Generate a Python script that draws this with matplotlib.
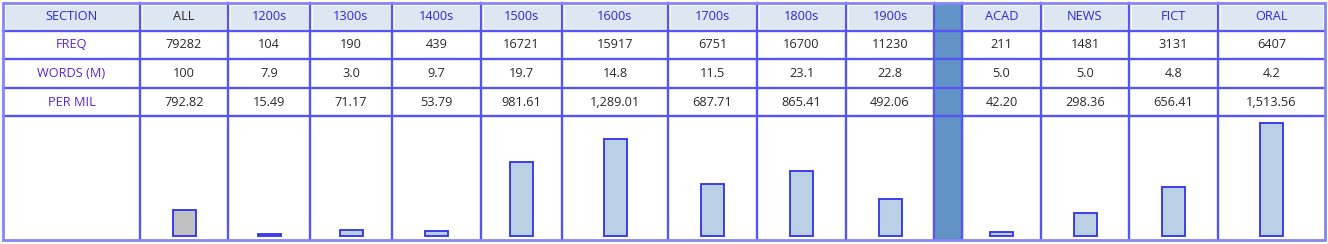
import matplotlib
matplotlib.use('Agg')
import matplotlib.pyplot as plt
from matplotlib.patches import Rectangle

sections = ['ALL', '1200s', '1300s', '1400s', '1500s', '1600s', '1700s', '1800s', '1900s',
            '', 'ACAD', 'NEWS', 'FICT', 'ORAL']
freq = [79282, 104, 190, 439, 16721, 15917, 6751, 16700, 11230, None, 211, 1481, 3131, 6407]
words = ['100', '7.9', '3.0', '9.7', '19.7', '14.8', '11.5', '23.1', '22.8', None, '5.0', '5.0', '4.8', '4.2']
per_mil = [792.82, 15.49, 71.17, 53.79, 981.61, 1289.01, 687.71, 865.41, 492.06, None,
           42.20, 298.36, 656.41, 1513.56]
# the ALL bar is drawn on its own scale in the source
bar_values = [340, 15.49, 71.17, 53.79, 981.61, 1289.01, 687.71, 865.41, 492.06, None,
              42.20, 298.36, 656.41, 1513.56]
row_labels = ['FREQ', 'WORDS (M)', 'PER MIL']

# layout in pixels
W, H = 1328, 244
col_edges = [3, 140, 228, 310, 392, 481, 562, 668, 757, 846, 934, 962, 1041, 1129, 1218, 1325]
row_edges = [3, 31, 59, 88, 116, 240]
sep_col = 10  # column index of the blue separator

grid_c = '#5555f2'
head_bg = '#dde7f1'
blue_txt = '#2a2ad6'
label_txt = '#5526e0'
val_txt = '#2a2a2a'

plt.rcParams['font.family'] = ['Open Sans', 'DejaVu Sans']

fig = plt.figure(figsize=(W / 100, H / 100), dpi=100)
ax = fig.add_axes([0, 0, 1, 1])
ax.set_xlim(0, W)
ax.set_ylim(H, 0)
ax.axis('off')

# header background
for i in range(len(col_edges) - 1):
    if i == sep_col:
        continue
    x0, x1 = col_edges[i], col_edges[i + 1]
    ax.add_patch(Rectangle((x0 + 1.5, row_edges[0] + 1.5), x1 - x0 - 3, row_edges[1] - row_edges[0] - 3,
                           facecolor=head_bg, edgecolor='white', lw=1.2, zorder=1))

# separator column
sx0, sx1 = col_edges[sep_col], col_edges[sep_col + 1]
ax.add_patch(Rectangle((sx0, row_edges[0]), sx1 - sx0, row_edges[-1] - row_edges[0],
                       facecolor='#6193c6', edgecolor='#6fb2c0', lw=1, zorder=1))

# grid
for x in col_edges[1:-1]:
    ax.plot([x, x], [row_edges[0], row_edges[-1]], color=grid_c, lw=1.7, zorder=3)
for y in row_edges[1:-1]:
    ax.plot([col_edges[0], col_edges[-1]], [y, y], color=grid_c, lw=1.7, zorder=3)
ax.add_patch(Rectangle((col_edges[0], row_edges[0]), col_edges[-1] - col_edges[0],
                       row_edges[-1] - row_edges[0], facecolor='none', edgecolor='#8585f6',
                       lw=2, zorder=3))

def cx(i):
    return (col_edges[i] + col_edges[i + 1]) / 2

def cy(r):
    return (row_edges[r] + row_edges[r + 1]) / 2

fs = 9.2
ax.text(cx(0), cy(0), 'SECTION', ha='center', va='center', fontsize=fs, color=blue_txt, zorder=4)
for j, lab in enumerate(row_labels):
    ax.text(cx(0), cy(j + 1), lab, ha='center', va='center', fontsize=fs, color=label_txt, zorder=4)

for k, name in enumerate(sections):
    if freq[k] is None:
        continue
    i = k + 1
    ax.text(cx(i), cy(0), name, ha='center', va='center', fontsize=fs,
            color=val_txt if name == 'ALL' else blue_txt, zorder=4)
    ax.text(cx(i), cy(1), str(freq[k]), ha='center', va='center', fontsize=fs, color=val_txt, zorder=4)
    ax.text(cx(i), cy(2), words[k], ha='center', va='center', fontsize=fs, color=val_txt, zorder=4)
    ax.text(cx(i), cy(3), f'{per_mil[k]:,.2f}', ha='center', va='center', fontsize=fs,
            color=val_txt, zorder=4)

# bar row: own axes, baseline at y=235.5 px, 0.0746 px per unit
base_px, top_px, bot_px = 235.5, row_edges[4], row_edges[5]
scale = 0.0746
axb = fig.add_axes([0, (H - bot_px) / H, 1, (bot_px - top_px) / H])
axb.set_xlim(0, W)
axb.set_ylim(-(bot_px - base_px) / scale, (base_px - top_px) / scale)
axb.axis('off')
axb.patch.set_alpha(0)

xs, hs, fcs = [], [], []
for k, v in enumerate(bar_values):
    if v is None:
        continue
    xs.append(cx(k + 1))
    hs.append(v)
    fcs.append('#c0c0c0' if sections[k] == 'ALL' else '#bad0e4')
axb.bar(xs, hs, width=23, color=fcs, edgecolor='#3030e8', linewidth=1.3, zorder=2)

fig.savefig('out.png', dpi=100)
